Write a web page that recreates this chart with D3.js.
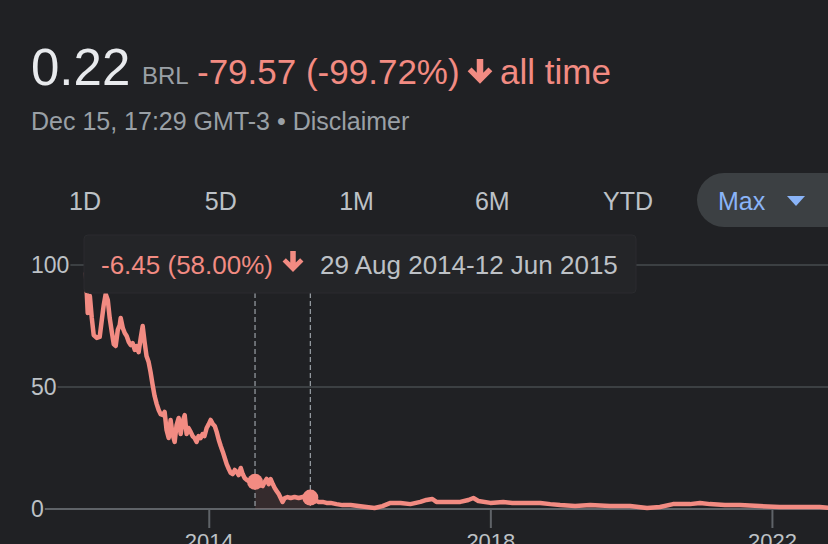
<!DOCTYPE html>
<html>
<head>
<meta charset="utf-8">
<script src="https://cdn.jsdelivr.net/npm/d3@7"></script>
<style>
  body { margin: 0; background: #202124; }
  svg { display: block; font-family: "Liberation Sans", Arial, sans-serif; }
</style>
</head>
<body>
<script>
var width = 828,
    height = 544;

// price history (BRL)
var dates = [
  "2012-04-04", "2012-04-08", "2012-04-13", "2012-04-24", "2012-05-04", "2012-05-14", "2012-05-30",
  "2012-06-14", "2012-06-25", "2012-07-05", "2012-07-15", "2012-07-26", "2012-08-05", "2012-08-16",
  "2012-08-26", "2012-09-05", "2012-09-16", "2012-09-26", "2012-10-01", "2012-10-12", "2012-10-22",
  "2012-11-01", "2012-11-12", "2012-11-22", "2012-12-02", "2012-12-13", "2012-12-23", "2013-01-02",
  "2013-01-13", "2013-01-23", "2013-02-02", "2013-02-12", "2013-02-23", "2013-03-05", "2013-03-15",
  "2013-03-26", "2013-04-06", "2013-04-16", "2013-04-26", "2013-05-07", "2013-05-17", "2013-05-27",
  "2013-06-07", "2013-06-17", "2013-06-27", "2013-07-08", "2013-07-18", "2013-07-29", "2013-08-08",
  "2013-08-18", "2013-08-29", "2013-09-08", "2013-09-18", "2013-09-29", "2013-10-09", "2013-10-19",
  "2013-10-30", "2013-11-09", "2013-11-20", "2013-11-30", "2013-12-10", "2013-12-21", "2014-01-01",
  "2014-01-11", "2014-01-22", "2014-02-01", "2014-02-11", "2014-02-22", "2014-03-04", "2014-03-15",
  "2014-03-25", "2014-04-04", "2014-04-15", "2014-04-25", "2014-05-05", "2014-05-16", "2014-05-26",
  "2014-06-05", "2014-06-16", "2014-06-26", "2014-07-06", "2014-07-17", "2014-07-27", "2014-08-07",
  "2014-08-17", "2014-08-29", "2014-09-07", "2014-09-17", "2014-09-27", "2014-10-08", "2014-10-18",
  "2014-10-28", "2014-11-08", "2014-11-18", "2014-11-29", "2014-12-09", "2014-12-19", "2014-12-30",
  "2015-01-09", "2015-01-19", "2015-01-30", "2015-02-14", "2015-03-02", "2015-03-22", "2015-04-12",
  "2015-05-03", "2015-05-24", "2015-06-12", "2015-07-04", "2015-07-25", "2015-08-15", "2015-09-04",
  "2015-09-25", "2015-10-26", "2015-11-26", "2016-01-07", "2016-02-17", "2016-03-29", "2016-05-10",
  "2016-06-20", "2016-08-01", "2016-09-22", "2016-11-12", "2017-01-03", "2017-02-03", "2017-03-06",
  "2017-03-27", "2017-05-18", "2017-07-29", "2017-09-09", "2017-10-05", "2017-10-31", "2018-01-01",
  "2018-03-09", "2018-04-25", "2018-07-01", "2018-09-17", "2018-11-08", "2018-12-29", "2019-03-17",
  "2019-06-03", "2019-09-14", "2019-12-27", "2020-03-24", "2020-05-30", "2020-08-06", "2020-11-02",
  "2020-12-24", "2021-02-13", "2021-05-02", "2021-07-19", "2021-10-30", "2022-02-11", "2022-05-26",
  "2022-09-06", "2022-12-15"
];
var prices = [
  97, 88.5, 80.3, 87.3, 78.3, 71.3, 70.1,
  70.5, 77.5, 83.6, 88.1, 85.7, 78.3, 72.5,
  67.6, 66.8, 73.4, 75.4, 78.3, 74.2, 72.1,
  70.9, 68.4, 67.2, 68.0, 65.2, 66.8, 64.3,
  70.1, 75.0, 68.4, 62.7, 60.2, 56.1, 51.2,
  46.3, 43.0, 40.6, 38.9, 38.5, 39.8, 32.4,
  29.1, 36.5, 30.7, 27.5, 34.4, 37.3, 30.7,
  35.7, 38.5, 30.7, 33.2, 31.6, 29.9, 29.1,
  27.5, 29.9, 29.1, 30.7, 29.9, 33.2, 34.8,
  36.5, 34.8, 34.0, 31.6, 28.3, 25.8, 23.4,
  20.9, 18.4, 16.4, 14.8, 14.3, 16.0, 15.2,
  13.9, 16.8, 14.3, 12.7, 11.9, 11.5, 11.5,
  11.1, 11.12, 10.7, 10.2, 9.8, 9.4, 11.1,
  12.3, 10.2, 12.3, 10.2, 8.6, 7.4, 6.1,
  4.5, 2.9, 4.5, 4.9, 4.5, 4.9, 4.5,
  4.9, 5.3, 4.67, 3.7, 2.9, 2.9, 2.5,
  2.5, 2.0, 1.6, 1.6, 1.2, 0.8, 0.4,
  1.2, 2.5, 2.5, 2.0, 2.9, 3.7, 4.1,
  2.9, 2.9, 2.9, 3.7, 4.5, 3.3, 2.5,
  2.9, 2.5, 2.5, 2.5, 2.0, 1.6, 1.2,
  1.6, 1.2, 1.2, 0.4, 0.8, 2.0, 2.0,
  2.5, 2.0, 1.6, 1.6, 1.2, 0.8, 0.8,
  0.8, 0.22
];

var yTicks = [0, 50, 100];
var xTicks = ["2014-01-01", "2018-01-01", "2022-01-01"];
var ranges = ["1D", "5D", "1M", "6M", "YTD"];
var selected = "Max";
var selStart = "2014-08-29",
    selEnd = "2015-06-12";

var parse = d3.timeParse("%Y-%m-%d");
var data = dates.map(function(d, i) { return { date: parse(d), value: prices[i] }; });

var svg = d3.select("body").append("svg")
    .attr("width", width)
    .attr("height", height);

var x = d3.scaleTime()
    .domain(d3.extent(data, d => d.date))
    .range([86, 839]);

var y = d3.scaleLinear()
    .domain([0, 100])
    .range([509, 265]);

// arrow icon centred on 0,0
function downArrow(s) {
  return "M" + (-s * 0.25) + "," + (-s) +
    "H" + (s * 0.25) +
    "V" + (s * 0.05) +
    "L" + (s * 0.65) + "," + (-s * 0.35) +
    "L" + (s * 0.95) + "," + (-s * 0.05) +
    "L0," + (s * 0.9) +
    "L" + (-s * 0.95) + "," + (-s * 0.05) +
    "L" + (-s * 0.65) + "," + (-s * 0.35) +
    "L" + (-s * 0.25) + "," + (s * 0.05) + "Z";
}

// header
var head = svg.append("g").attr("class", "header");
head.append("text")
    .attr("x", 31).attr("y", 85)
    .style("font-size", "51px")
    .style("fill", "#e8eaed")
    .text("0.22");
head.append("text")
    .attr("x", 142).attr("y", 84)
    .style("font-size", "24px")
    .style("fill", "#9aa0a6")
    .text("BRL");
head.append("text")
    .attr("x", 197).attr("y", 84)
    .style("font-size", "35px")
    .style("fill", "#f28b82")
    .text("-79.57 (-99.72%)");
head.append("path")
    .attr("transform", "translate(480,72)")
    .attr("d", downArrow(13))
    .style("fill", "#f28b82");
head.append("text")
    .attr("x", 500).attr("y", 84)
    .style("font-size", "35px")
    .style("fill", "#f28b82")
    .text("all time");
head.append("text")
    .attr("x", 31).attr("y", 130)
    .style("font-size", "25px")
    .style("fill", "#9aa0a6")
    .text("Dec 15, 17:29 GMT-3 \u2022 Disclaimer");

// range tabs
var tabX = d3.scalePoint().domain(ranges).range([85, 628]);
svg.append("g").selectAll("text")
    .data(ranges)
    .enter().append("text")
    .attr("x", d => tabX(d))
    .attr("y", 210)
    .attr("text-anchor", "middle")
    .style("font-size", "25px")
    .style("fill", "#bdc1c6")
    .text(d => d);

var pill = svg.append("g");
pill.append("rect")
    .attr("x", 697).attr("y", 173)
    .attr("width", 160).attr("height", 54)
    .attr("rx", 27)
    .style("fill", "#3c4043");
pill.append("text")
    .attr("x", 718).attr("y", 210)
    .style("font-size", "25px")
    .style("fill", "#8ab4f8")
    .text(selected);
pill.append("path")
    .attr("d", "M787,196L805,196L796,206Z")
    .style("fill", "#8ab4f8");

// y axis labels + grid
var grid = svg.append("g").attr("class", "grid");
var yLab = grid.selectAll("text")
    .data(yTicks)
    .enter().append("text")
    .attr("x", 31)
    .attr("y", d => y(d))
    .attr("dy", "0.35em")
    .style("font-size", "23px")
    .style("fill", "#bdc1c6")
    .text(d => d);

yLab.each(function(d) {
  var w = this.getComputedTextLength();
  grid.append("line")
    .attr("x1", 31 + w + 1).attr("x2", width)
    .attr("y1", y(d)).attr("y2", y(d))
    .style("stroke", d === 0 ? "#5f6368" : "#3c4043")
    .style("stroke-width", 2);
});

// x ticks
var xAxis = svg.append("g")
    .attr("transform", "translate(0," + y(0) + ")")
    .call(d3.axisBottom(x)
      .tickValues(xTicks.map(parse))
      .tickFormat(d3.timeFormat("%Y"))
      .tickSize(19)
      .tickPadding(5));
xAxis.select(".domain").remove();
xAxis.selectAll(".tick line").style("stroke", "#5f6368").style("stroke-width", 2);
xAxis.selectAll(".tick text")
    .style("font-size", "22px")
    .style("font-family", "'Liberation Sans', Arial, sans-serif")
    .style("fill", "#bdc1c6");

// selected range
var s0 = parse(selStart), s1 = parse(selEnd);
var selData = data.filter(d => d.date >= s0 && d.date <= s1);

svg.append("path")
    .datum(selData)
    .attr("d", d3.area().x(d => x(d.date)).y0(y(0)).y1(d => y(d.value)))
    .style("fill", "#f28b82")
    .style("fill-opacity", 0.1);

svg.append("g").selectAll("line")
    .data([s0, s1])
    .enter().append("line")
    .attr("x1", d => x(d)).attr("x2", d => x(d))
    .attr("y1", 293).attr("y2", y(0))
    .style("stroke", "#9aa0a6")
    .style("stroke-width", 1.2)
    .style("stroke-dasharray", "5,3");

// price line
var line = d3.line()
    .x(d => x(d.date))
    .y(d => y(d.value));

svg.append("path")
    .datum(data)
    .attr("d", line)
    .style("fill", "none")
    .style("stroke", "#f28b82")
    .style("stroke-width", 4.5)
    .style("stroke-linejoin", "round");

svg.append("g").selectAll("circle")
    .data([selData[0], selData[selData.length - 1]])
    .enter().append("circle")
    .attr("cx", d => x(d.date))
    .attr("cy", d => y(d.value))
    .attr("r", 8)
    .style("fill", "#f28b82");

// tooltip
var tip = svg.append("g");
tip.append("rect")
    .attr("x", 84).attr("y", 235)
    .attr("width", 552).attr("height", 58)
    .attr("rx", 4)
    .style("fill", "#242528")
    .style("stroke", "#2a2b2e");
tip.append("text")
    .attr("x", 101).attr("y", 274)
    .style("font-size", "26px")
    .style("fill", "#f28b82")
    .text("-6.45 (58.00%)");
tip.append("path")
    .attr("transform", "translate(293,262)")
    .attr("d", downArrow(11))
    .style("fill", "#f28b82");
tip.append("text")
    .attr("x", 320).attr("y", 274)
    .style("font-size", "26px")
    .style("fill", "#bdc1c6")
    .text("29 Aug 2014-12 Jun 2015");
</script>
</body>
</html>
